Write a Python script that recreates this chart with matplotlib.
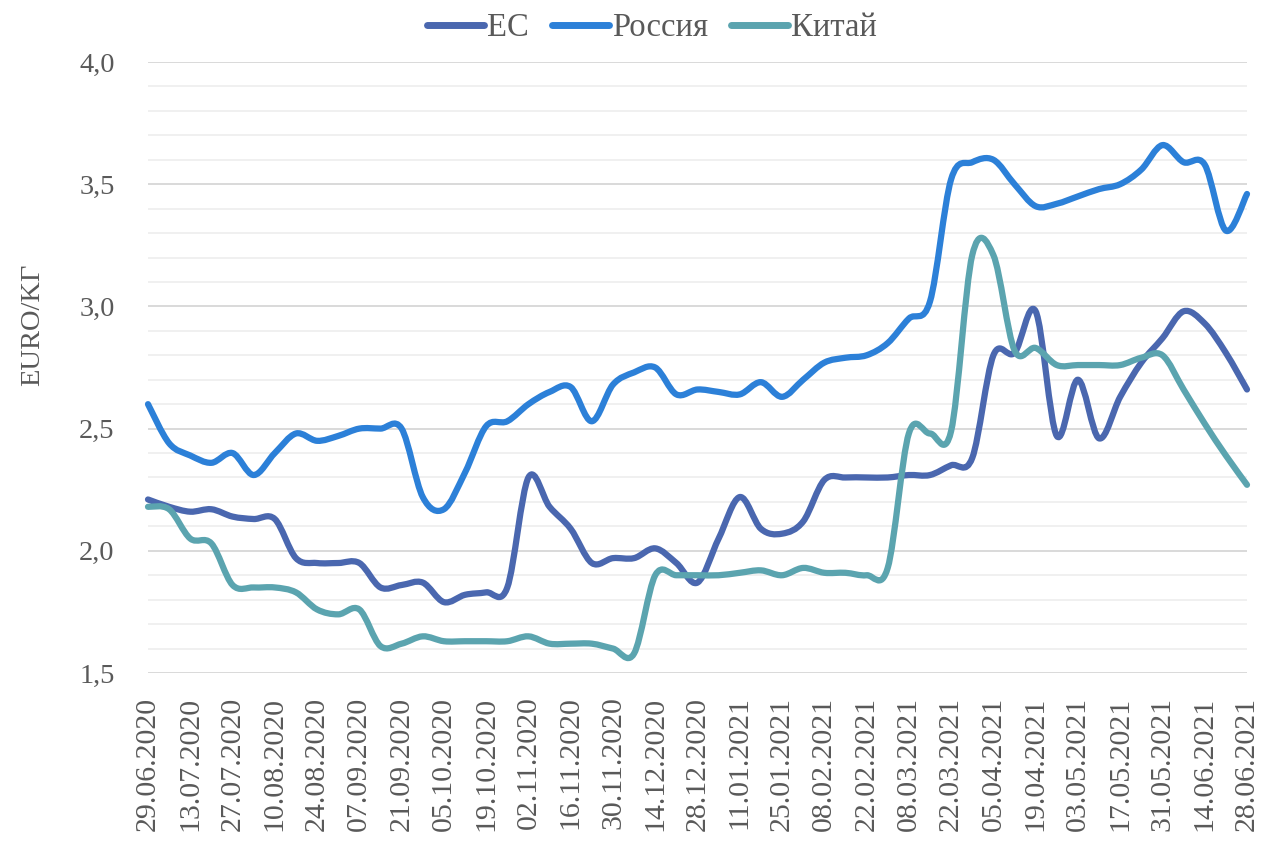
import matplotlib
matplotlib.use("Agg")
import matplotlib.pyplot as plt
import numpy as np
from matplotlib.path import Path
from matplotlib.patches import PathPatch
from matplotlib.lines import Line2D

# ---------------- data ----------------
tick_labels = ["29.06.2020", "13.07.2020", "27.07.2020", "10.08.2020", "24.08.2020",
               "07.09.2020", "21.09.2020", "05.10.2020", "19.10.2020", "02.11.2020",
               "16.11.2020", "30.11.2020", "14.12.2020", "28.12.2020", "11.01.2021",
               "25.01.2021", "08.02.2021", "22.02.2021", "08.03.2021", "22.03.2021",
               "05.04.2021", "19.04.2021", "03.05.2021", "17.05.2021", "31.05.2021",
               "14.06.2021", "28.06.2021"]

eu = [2.21, 2.18, 2.16, 2.17, 2.14, 2.13, 2.13, 1.97, 1.95, 1.95,
      1.95, 1.85, 1.86, 1.87, 1.79, 1.82, 1.83, 1.85, 2.30, 2.18,
      2.09, 1.95, 1.97, 1.97, 2.01, 1.95, 1.87, 2.05, 2.22, 2.09,
      2.07, 2.12, 2.29, 2.30, 2.30, 2.30, 2.31, 2.31, 2.35, 2.38,
      2.80, 2.81, 2.98, 2.47, 2.70, 2.46, 2.63, 2.77, 2.87, 2.98,
      2.93, 2.81, 2.66]

russia = [2.60, 2.44, 2.39, 2.36, 2.40, 2.31, 2.40, 2.48, 2.45, 2.47,
          2.50, 2.50, 2.50, 2.22, 2.17, 2.32, 2.51, 2.53, 2.60, 2.65,
          2.67, 2.53, 2.68, 2.73, 2.75, 2.64, 2.66, 2.65, 2.64, 2.69,
          2.63, 2.70, 2.77, 2.79, 2.80, 2.85, 2.95, 3.02, 3.52, 3.59,
          3.60, 3.50, 3.41, 3.42, 3.45, 3.48, 3.50, 3.56, 3.66, 3.59,
          3.58, 3.31, 3.46]

china = [2.18, 2.17, 2.05, 2.03, 1.86, 1.85, 1.85, 1.83, 1.76, 1.74,
         1.76, 1.61, 1.62, 1.65, 1.63, 1.63, 1.63, 1.63, 1.65, 1.62,
         1.62, 1.62, 1.60, 1.58, 1.90, 1.90, 1.90, 1.90, 1.91, 1.92,
         1.90, 1.93, 1.91, 1.91, 1.90, 1.93, 2.48, 2.48, 2.49, 3.21,
         3.21, 2.82, 2.83, 2.76, 2.76, 2.76, 2.76, 2.79, 2.80, 2.66,
         2.52, 2.39, 2.27]

series_names = ["ЕС", "Россия", "Китай"]
series_colors = ["#4A67AF", "#2C80D8", "#5BA4AF"]

# ---------------- style ----------------
text_color = "#595959"
plt.rcParams["font.family"] = ["Liberation Serif", "DejaVu Serif"]

fig = plt.figure(figsize=(12.63, 8.41), dpi=100)
ax = fig.add_axes([148 / 1263, 1 - 673 / 841, (1247 - 148) / 1263, (673 - 62) / 841])

n = len(eu)
xs = np.arange(n)


def smooth_path(x, y):
    """Excel-like smoothed line: cubic Bezier segments (Catmull-Rom control points)."""
    pts = np.column_stack([x, y]).astype(float)
    verts = [pts[0]]
    codes = [Path.MOVETO]
    m = len(pts)
    for i in range(m - 1):
        p0 = pts[i - 1] if i > 0 else pts[i]
        p1 = pts[i]
        p2 = pts[i + 1]
        p3 = pts[i + 2] if i + 2 < m else pts[i + 1]
        c1 = p1 + (p2 - p0) / 6.0
        c2 = p2 - (p3 - p1) / 6.0
        verts += [c1, c2, p2]
        codes += [Path.CURVE4] * 3
    return Path(verts, codes)


lw = 4.5
for vals, name, col in zip([eu, russia, china], series_names, series_colors):
    patch = PathPatch(smooth_path(xs, vals), facecolor="none", edgecolor=col,
                      lw=lw, capstyle="round", joinstyle="round", zorder=3)
    patch.set_clip_on(False)
    ax.add_patch(patch)

ax.set_xlim(0, n - 1)
ax.set_ylim(1.5, 4.0)

# grid
ax.set_yticks(np.arange(1.5, 4.01, 0.5))
ax.set_yticks(np.arange(1.5, 4.01, 0.1), minor=True)
ax.grid(axis="y", which="major", color="#D9D9D9", lw=1.4, zorder=0)
ax.grid(axis="y", which="minor", color="#F0F0F0", lw=1.4, zorder=0)
ax.set_axisbelow(True)
for s in ax.spines.values():
    s.set_visible(False)

ax.set_yticklabels([f"{v:.1f}".replace(".", ",") for v in np.arange(1.5, 4.01, 0.5)])
ax.tick_params(axis="y", which="both", length=0, pad=24, labelsize=20.5, labelcolor=text_color)

ax.set_xticks(xs[::2])
ax.set_xticklabels(tick_labels, rotation=90)
ax.tick_params(axis="x", length=0, pad=17, labelsize=21.5, labelcolor=text_color)

fig.text(33 / 1263, 1 - 325 / 841, "EURO/KГ", rotation=90, ha="center", va="center",
         fontsize=20.5, color=text_color)

handles = [Line2D([], [], color=c, lw=lw + 0.5, solid_capstyle="round") for c in series_colors]
leg = fig.legend(handles, series_names, loc="center", ncol=3,
                 bbox_to_anchor=(652 / 1263, 1 - 28 / 841), frameon=False,
                 fontsize=23.5, handlelength=1.75, handletextpad=0.1, columnspacing=0.7,
                 borderpad=0.1)
for t in leg.get_texts():
    t.set_color(text_color)

fig.savefig("out.png", dpi=100)
